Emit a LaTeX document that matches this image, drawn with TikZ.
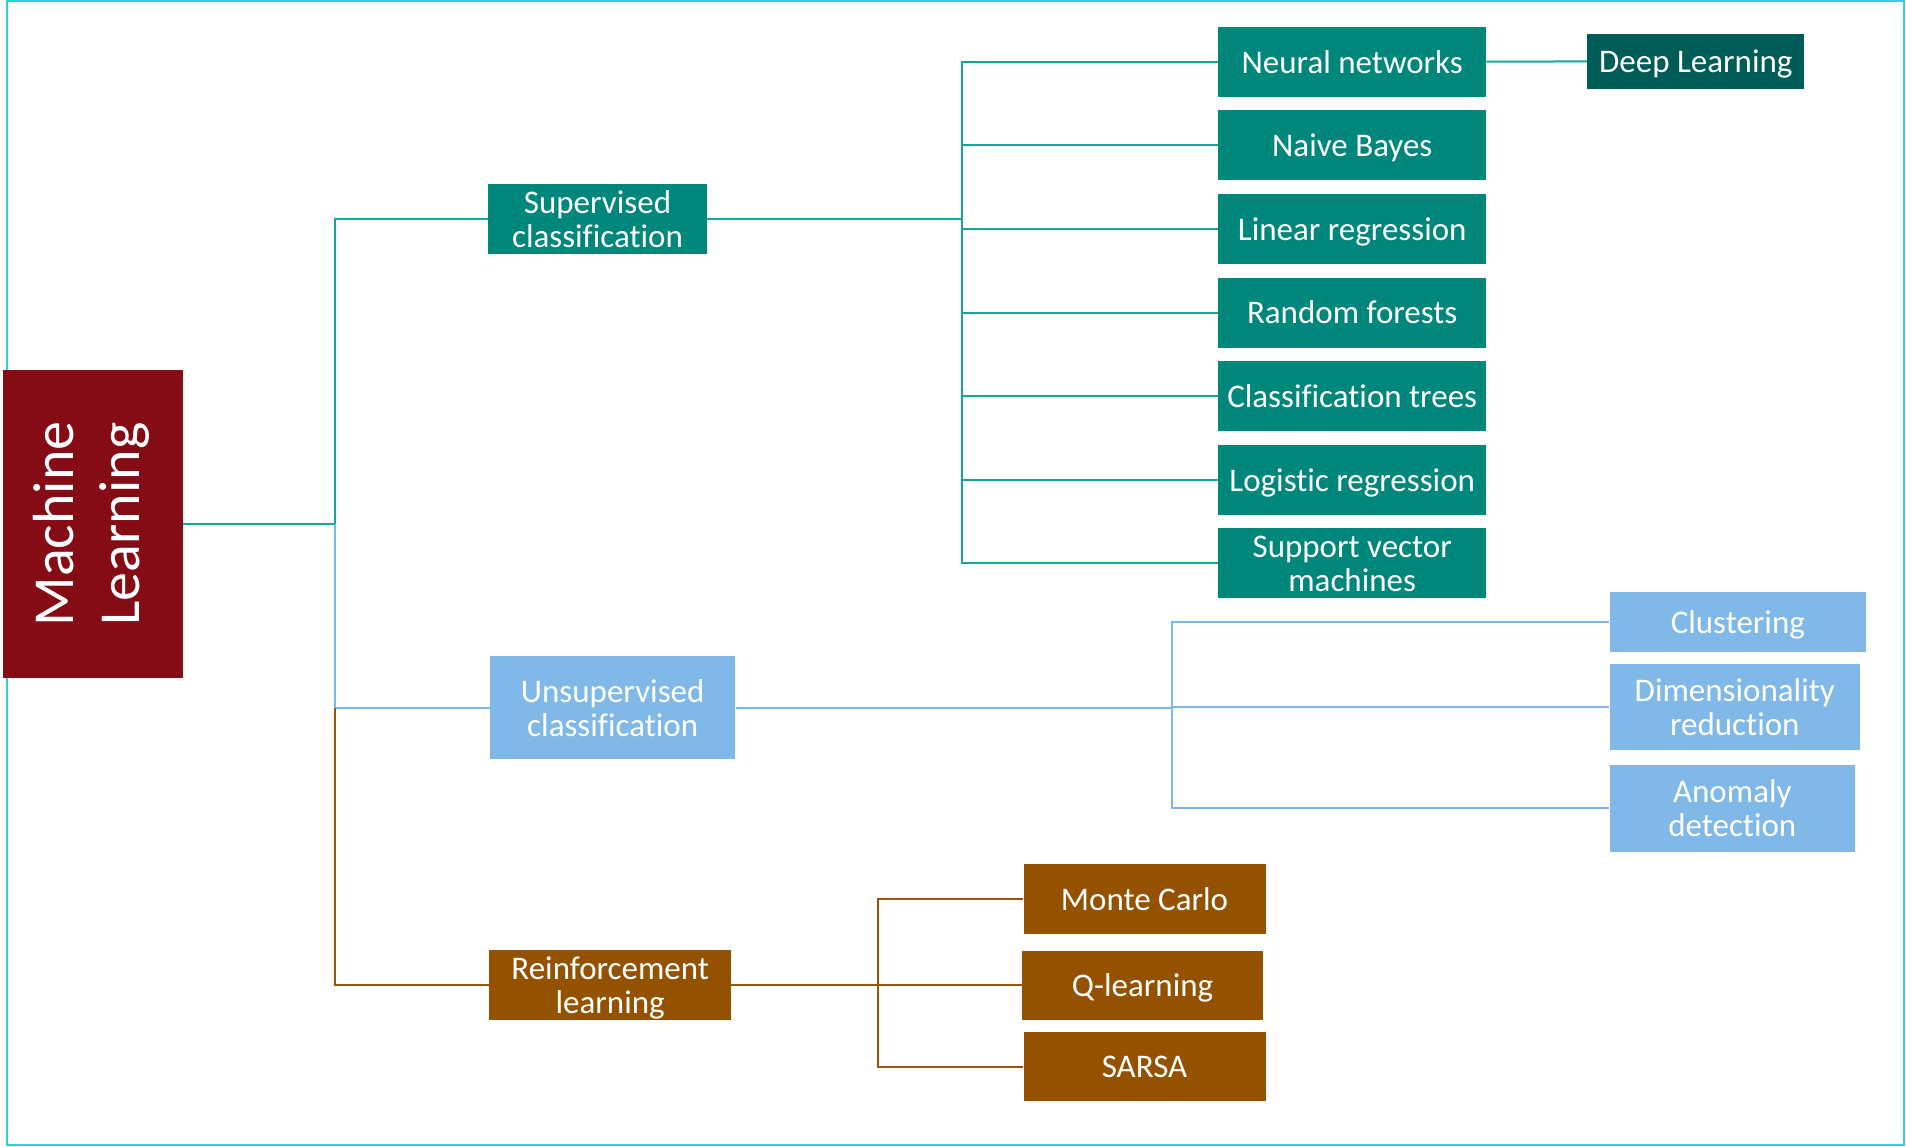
\documentclass[tikz,border=0pt]{standalone}
\usepackage{fontspec}
\setmainfont[Ligatures=NoCommon]{Carlito}
\definecolor{mlred}{HTML}{850B15}
\definecolor{tealbox}{HTML}{00877C}
\definecolor{tealdark}{HTML}{005C57}
\definecolor{skybox}{HTML}{80B8E8}
\definecolor{rustbox}{HTML}{945200}
\definecolor{framecol}{HTML}{2DD3DA}
\definecolor{tealln}{HTML}{14A59B}
\definecolor{skyln}{HTML}{7FB6EA}
\definecolor{rustln}{HTML}{9A5508}

\begin{document}
\begin{tikzpicture}[x=1pt,y=-1pt,
  box/.style={rectangle, inner sep=0pt, align=center, text=white,
    font=\fontsize{33}{34}\selectfont},
  lbl/.style={box, text depth=0pt},
  tealnode/.style={lbl, fill=tealbox},
  deepnode/.style={lbl, fill=tealdark},
  skynode/.style={lbl, fill=skybox},
  rustnode/.style={lbl, fill=rustbox},
  algo/.style={tealnode, minimum width=267.7, minimum height=70},
  tealline/.style={draw=tealln, line width=2pt},
  skyline/.style={draw=skyln, line width=2pt},
  rustline/.style={draw=rustln, line width=2pt}]

\useasboundingbox (0,0) rectangle (1906,1146);

% outer frame
\draw[framecol, line width=2pt] (7,1) rectangle (1904,1145);

% root
\node[box, fill=mlred, minimum width=180, minimum height=308] (ml) at (93,524)
  {\rotatebox{90}{\fontsize{58}{66}\selectfont\begin{tabular}{@{}c@{}}Machine\\Learning\end{tabular}}};

% first level
\node[tealnode, minimum width=218.4, minimum height=70] (sup) at (597.5,219.3)
  {Supervised\\classification};
\node[skynode, minimum width=245.3, minimum height=103.3] (uns) at (612.7,707.7)
  {Unsupervised\\classification};
\node[rustnode, minimum width=241.7, minimum height=70.3] (rl) at (610.2,984.9)
  {Reinforcement\\learning};

% supervised methods
\node[algo] (nn)  at (1352.2,61.7)  {Neural networks};
\node[algo] (nb)  at (1352.2,145.3) {Naive Bayes};
\node[algo] (lr)  at (1352.2,228.9) {Linear regression};
\node[algo] (rf)  at (1352.2,312.5) {Random forests};
\node[algo] (ct)  at (1352.2,396.1) {Classification trees};
\node[algo] (lgr) at (1352.2,479.7) {Logistic regression};
\node[algo] (svm) at (1352.2,563.3) {Support vector\\machines};
\node[deepnode, minimum width=217, minimum height=55.3] (dl) at (1695.8,61.4)
  {Deep Learning};

% unsupervised methods
\node[skynode, minimum width=256.5, minimum height=59.6] (clu) at (1737.8,621.8)
  {Clustering};
\node[skynode, minimum width=250.5, minimum height=86.3] (dim) at (1734.8,706.9)
  {Dimensionality\\reduction};
\node[skynode, minimum width=245.5, minimum height=87.4] (ano) at (1732.3,808.3)
  {Anomaly\\detection};

% reinforcement methods
\node[rustnode, minimum width=242, minimum height=69.6] (mc) at (1144.5,898.8)
  {Monte Carlo};
\node[rustnode, minimum width=241, minimum height=69.4] (ql) at (1142.5,985.3)
  {Q-learning};
\node[rustnode, minimum width=242, minimum height=69] (sarsa) at (1144.5,1066.5)
  {SARSA};

% bus points
\coordinate (trunk) at (335.3,524);
\coordinate (supbus) at (962,219.3);
\coordinate (unsbus) at (1172,707.7);
\coordinate (rlbus) at (877.6,984.9);

% root to first level
\draw[tealline] (ml.east) -- (trunk) |- (sup.west);
\draw[skyline] (trunk) |- (uns.west);
\draw[rustline] (uns.west -| trunk) |- (rl.west);

% supervised branch
\draw[tealline] (sup.east) -- (supbus);
\foreach \n in {nn,nb,lr,rf,ct,lgr,svm}
  \draw[tealline] (supbus) |- (\n.west);
\draw[tealline] (nn.east) -- (dl.west);

% unsupervised branch
\draw[skyline] (uns.east) -- (unsbus);
\foreach \n in {clu,dim,ano}
  \draw[skyline] (unsbus) |- (\n.west);

% reinforcement branch
\draw[rustline] (rl.east) -- (rlbus);
\foreach \n in {mc,ql,sarsa}
  \draw[rustline] (rlbus) |- (\n.west);

\end{tikzpicture}
\end{document}
